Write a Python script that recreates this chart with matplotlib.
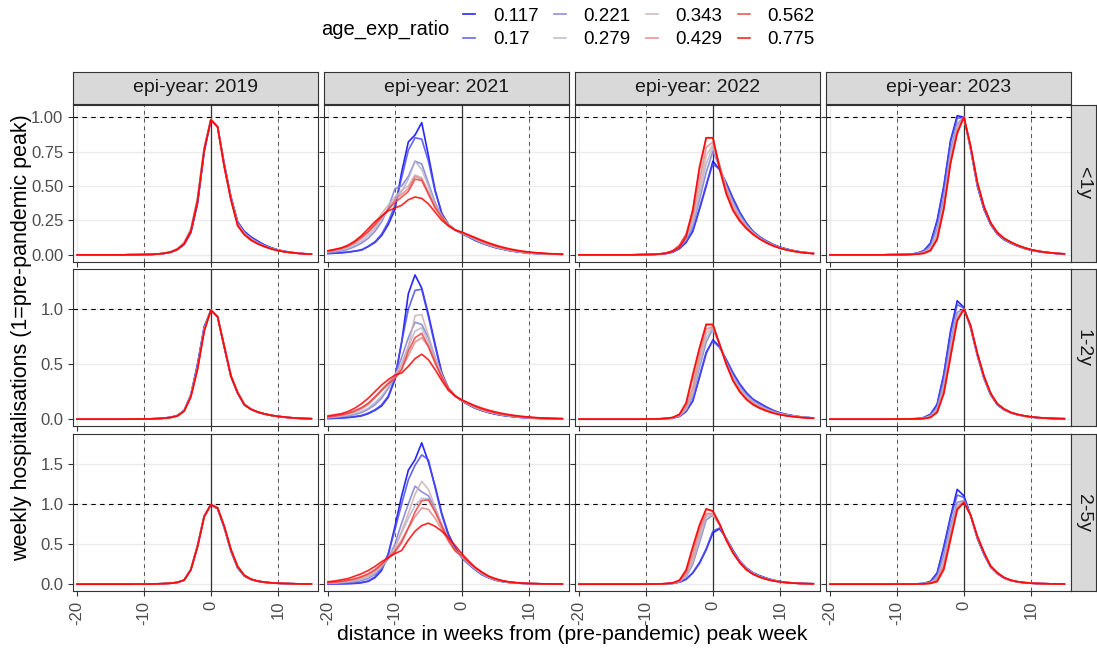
import matplotlib.pyplot as plt
from matplotlib.lines import Line2D

plt.rcParams['font.family'] = ['Liberation Sans', 'DejaVu Sans']

# weeks relative to the pre-pandemic peak week
weeks = list(range(-20, 16))
years = ['2019', '2021', '2022', '2023']
age_groups = ['<1y', '1-2y', '2-5y']
ratios = ['0.117', '0.17', '0.221', '0.279', '0.343', '0.429', '0.562', '0.775']
colors = ['#0000FF', '#4A4AF2', '#7C7CD6', '#B4B4CC', '#CFAFAF', '#E08686', '#F03C3C', '#FF0000']

# ---- <1y ----
y2019_lt1 = [
    [0,0,0,0,0,0,0,0,0.001,0.001, 0.002,0.003,0.005,0.01,0.019,0.038,0.075,0.16,0.37,0.75, 0.98,0.93,0.66,0.42,0.24,0.17,0.13,0.10,0.072,0.052,0.036,0.026,0.018,0.012,0.008,0.005],
    [0,0,0,0,0,0,0,0,0.001,0.001, 0.002,0.003,0.005,0.01,0.019,0.039,0.077,0.165,0.38,0.755, 0.98,0.93,0.655,0.415,0.235,0.165,0.125,0.095,0.07,0.05,0.035,0.025,0.017,0.012,0.008,0.005],
    [0,0,0,0,0,0,0,0,0.001,0.001, 0.002,0.003,0.006,0.011,0.021,0.042,0.085,0.18,0.40,0.77, 0.98,0.93,0.65,0.41,0.23,0.16,0.12,0.09,0.066,0.048,0.034,0.024,0.017,0.012,0.008,0.005],
    [0,0,0,0,0,0,0,0,0.001,0.001, 0.002,0.003,0.006,0.012,0.022,0.044,0.09,0.185,0.41,0.78, 0.985,0.93,0.645,0.405,0.225,0.155,0.115,0.085,0.063,0.046,0.033,0.023,0.016,0.011,0.008,0.005],
    [0,0,0,0,0,0,0,0,0.001,0.001, 0.002,0.003,0.006,0.012,0.022,0.045,0.09,0.19,0.41,0.78, 0.985,0.93,0.64,0.40,0.22,0.155,0.115,0.085,0.062,0.045,0.032,0.023,0.016,0.011,0.008,0.005],
    [0,0,0,0,0,0,0,0,0.001,0.001, 0.002,0.003,0.006,0.011,0.021,0.042,0.085,0.18,0.40,0.77, 0.98,0.93,0.64,0.40,0.22,0.15,0.11,0.082,0.06,0.044,0.031,0.023,0.016,0.011,0.007,0.005],
    [0,0,0,0,0,0,0,0,0.001,0.001, 0.002,0.003,0.006,0.011,0.02,0.04,0.08,0.17,0.39,0.76, 0.98,0.93,0.64,0.40,0.215,0.15,0.11,0.08,0.06,0.044,0.031,0.022,0.016,0.011,0.007,0.005],
    [0,0,0,0,0,0,0,0,0.001,0.001, 0.002,0.003,0.006,0.011,0.02,0.04,0.08,0.17,0.39,0.76, 0.98,0.93,0.64,0.40,0.21,0.145,0.105,0.08,0.06,0.043,0.03,0.022,0.016,0.011,0.007,0.005],
]
y2021_lt1 = [
    [0.01,0.012,0.015,0.02,0.027,0.035,0.06,0.09,0.14,0.22, 0.33,0.60,0.82,0.87,0.96,0.72,0.47,0.30,0.22,0.18, 0.155,0.13,0.105,0.085,0.068,0.053,0.042,0.032,0.024,0.018,0.013,0.01,0.008,0.006,0.005,0.004],
    [0.01,0.012,0.015,0.02,0.027,0.036,0.062,0.095,0.15,0.24, 0.36,0.56,0.76,0.85,0.84,0.68,0.46,0.30,0.22,0.18, 0.155,0.13,0.105,0.085,0.068,0.053,0.042,0.032,0.024,0.018,0.013,0.01,0.008,0.006,0.005,0.004],
    [0.015,0.02,0.028,0.04,0.06,0.085,0.12,0.17,0.24,0.34, 0.48,0.50,0.57,0.68,0.66,0.52,0.38,0.28,0.22,0.18, 0.158,0.133,0.11,0.088,0.07,0.055,0.043,0.033,0.025,0.019,0.014,0.011,0.008,0.006,0.005,0.004],
    [0.02,0.027,0.037,0.05,0.07,0.10,0.14,0.19,0.26,0.33, 0.40,0.46,0.55,0.68,0.62,0.50,0.37,0.28,0.22,0.18, 0.16,0.135,0.112,0.09,0.072,0.057,0.045,0.035,0.026,0.02,0.015,0.011,0.008,0.006,0.005,0.004],
    [0.025,0.033,0.045,0.06,0.085,0.12,0.17,0.23,0.30,0.36, 0.42,0.47,0.50,0.58,0.56,0.46,0.36,0.28,0.22,0.18, 0.16,0.138,0.115,0.094,0.076,0.06,0.047,0.037,0.028,0.021,0.016,0.012,0.009,0.007,0.005,0.004],
    [0.025,0.033,0.045,0.06,0.085,0.12,0.16,0.21,0.27,0.33, 0.40,0.44,0.48,0.57,0.55,0.45,0.35,0.28,0.22,0.18, 0.162,0.14,0.118,0.097,0.079,0.063,0.05,0.039,0.03,0.023,0.017,0.013,0.01,0.007,0.006,0.004],
    [0.028,0.037,0.05,0.068,0.095,0.13,0.17,0.22,0.28,0.33, 0.38,0.42,0.46,0.55,0.54,0.44,0.34,0.27,0.21,0.18, 0.163,0.142,0.121,0.1,0.082,0.066,0.052,0.041,0.032,0.025,0.019,0.014,0.011,0.008,0.006,0.005],
    [0.03,0.04,0.05,0.07,0.10,0.14,0.19,0.24,0.28,0.32, 0.34,0.36,0.40,0.42,0.41,0.37,0.31,0.25,0.21,0.18, 0.165,0.145,0.125,0.105,0.087,0.071,0.057,0.045,0.035,0.027,0.021,0.016,0.012,0.009,0.007,0.005],
]
y2022_lt1 = [
    [0,0,0,0,0,0,0,0,0,0.001, 0.002,0.003,0.005,0.01,0.02,0.045,0.09,0.17,0.33,0.50, 0.68,0.62,0.52,0.41,0.31,0.23,0.17,0.13,0.10,0.075,0.056,0.042,0.031,0.022,0.016,0.011],
    [0,0,0,0,0,0,0,0,0,0.001, 0.002,0.003,0.005,0.01,0.021,0.047,0.095,0.18,0.34,0.51, 0.66,0.62,0.52,0.41,0.31,0.23,0.17,0.13,0.10,0.075,0.056,0.042,0.031,0.022,0.016,0.011],
    [0,0,0,0,0,0,0,0,0,0.001, 0.002,0.003,0.006,0.012,0.025,0.055,0.11,0.21,0.40,0.60, 0.75,0.64,0.50,0.38,0.29,0.22,0.165,0.125,0.095,0.071,0.053,0.04,0.029,0.021,0.015,0.01],
    [0,0,0,0,0,0,0,0,0,0.001, 0.002,0.003,0.006,0.012,0.026,0.058,0.12,0.23,0.44,0.66, 0.78,0.65,0.49,0.37,0.28,0.21,0.16,0.122,0.093,0.07,0.052,0.039,0.028,0.02,0.014,0.01],
    [0,0,0,0,0,0,0,0,0,0.001, 0.002,0.003,0.006,0.013,0.027,0.06,0.13,0.25,0.48,0.72, 0.80,0.65,0.48,0.36,0.27,0.205,0.157,0.12,0.091,0.068,0.051,0.038,0.028,0.02,0.014,0.01],
    [0,0,0,0,0,0,0,0,0,0.001, 0.002,0.003,0.007,0.014,0.028,0.065,0.14,0.28,0.54,0.78, 0.82,0.65,0.47,0.34,0.26,0.2,0.154,0.118,0.09,0.067,0.05,0.037,0.027,0.019,0.014,0.009],
    [0,0,0,0,0,0,0,0,0,0.001, 0.002,0.003,0.007,0.014,0.03,0.07,0.15,0.32,0.62,0.85, 0.85,0.64,0.45,0.33,0.25,0.195,0.15,0.116,0.088,0.066,0.049,0.036,0.026,0.019,0.013,0.009],
    [0,0,0,0,0,0,0,0,0,0.001, 0.002,0.003,0.005,0.01,0.025,0.055,0.13,0.33,0.64,0.85, 0.85,0.62,0.44,0.32,0.245,0.19,0.148,0.114,0.087,0.065,0.048,0.036,0.026,0.018,0.013,0.009],
]
y2023_lt1 = [
    [0,0,0,0,0,0,0,0,0,0.001, 0.002,0.003,0.005,0.012,0.03,0.085,0.25,0.50,0.83,1.01, 1.0,0.77,0.50,0.33,0.22,0.15,0.11,0.085,0.064,0.047,0.034,0.025,0.018,0.013,0.009,0.006],
    [0,0,0,0,0,0,0,0,0,0.001, 0.002,0.003,0.005,0.011,0.028,0.08,0.24,0.49,0.82,0.99, 1.0,0.77,0.51,0.335,0.222,0.152,0.112,0.086,0.065,0.048,0.035,0.026,0.019,0.013,0.009,0.006],
    [0,0,0,0,0,0,0,0,0,0.001, 0.001,0.002,0.004,0.009,0.022,0.06,0.19,0.42,0.76,0.95, 1.0,0.78,0.52,0.34,0.225,0.155,0.115,0.088,0.067,0.05,0.036,0.027,0.02,0.014,0.01,0.007],
    [0,0,0,0,0,0,0,0,0,0.001, 0.001,0.002,0.004,0.008,0.02,0.05,0.16,0.38,0.72,0.93, 1.0,0.78,0.52,0.345,0.23,0.158,0.117,0.09,0.068,0.051,0.037,0.027,0.02,0.014,0.01,0.007],
    [0,0,0,0,0,0,0,0,0,0.001, 0.001,0.002,0.003,0.007,0.017,0.043,0.14,0.36,0.70,0.92, 1.0,0.78,0.52,0.35,0.23,0.16,0.118,0.091,0.069,0.051,0.037,0.028,0.02,0.014,0.01,0.007],
    [0,0,0,0,0,0,0,0,0,0.001, 0.001,0.002,0.003,0.006,0.014,0.036,0.12,0.35,0.68,0.90, 1.0,0.785,0.525,0.35,0.232,0.162,0.12,0.092,0.07,0.052,0.038,0.028,0.02,0.015,0.01,0.007],
    [0,0,0,0,0,0,0,0,0,0.001, 0.001,0.002,0.003,0.005,0.012,0.032,0.115,0.34,0.67,0.89, 1.0,0.79,0.525,0.35,0.232,0.162,0.12,0.092,0.07,0.052,0.038,0.028,0.02,0.015,0.01,0.007],
    [0,0,0,0,0,0,0,0,0,0.001, 0.001,0.001,0.002,0.005,0.01,0.03,0.11,0.33,0.66,0.88, 1.0,0.79,0.53,0.35,0.232,0.162,0.12,0.093,0.07,0.052,0.038,0.028,0.02,0.015,0.01,0.007],
]

# ---- 1-2y ----
y2019_1_2 = [
    [0,0,0,0,0,0,0,0,0.001,0.001, 0.002,0.003,0.005,0.01,0.018,0.034,0.08,0.22,0.50,0.84, 0.99,0.93,0.65,0.385,0.235,0.13,0.088,0.063,0.046,0.034,0.025,0.018,0.012,0.008,0.006,0.004],
    [0,0,0,0,0,0,0,0,0.001,0.001, 0.002,0.003,0.005,0.01,0.017,0.033,0.078,0.22,0.49,0.83, 0.99,0.93,0.655,0.39,0.237,0.13,0.089,0.064,0.047,0.034,0.025,0.018,0.013,0.009,0.006,0.004],
    [0,0,0,0,0,0,0,0,0.001,0.001, 0.002,0.003,0.005,0.009,0.016,0.031,0.077,0.215,0.47,0.82, 0.99,0.93,0.66,0.395,0.24,0.135,0.09,0.065,0.048,0.035,0.026,0.019,0.013,0.009,0.006,0.004],
    [0,0,0,0,0,0,0,0,0.001,0.001, 0.002,0.003,0.005,0.009,0.016,0.031,0.077,0.215,0.47,0.82, 0.99,0.93,0.665,0.40,0.245,0.137,0.092,0.066,0.049,0.036,0.026,0.019,0.013,0.009,0.006,0.004],
    [0,0,0,0,0,0,0,0,0.001,0.001, 0.002,0.003,0.005,0.009,0.016,0.031,0.076,0.21,0.46,0.81, 0.99,0.93,0.665,0.40,0.245,0.137,0.092,0.066,0.049,0.036,0.026,0.019,0.013,0.009,0.006,0.004],
    [0,0,0,0,0,0,0,0,0.001,0.001, 0.002,0.003,0.005,0.009,0.016,0.03,0.075,0.21,0.46,0.81, 0.99,0.93,0.66,0.395,0.24,0.135,0.091,0.065,0.048,0.035,0.026,0.019,0.013,0.009,0.006,0.004],
    [0,0,0,0,0,0,0,0,0.001,0.001, 0.002,0.003,0.005,0.009,0.016,0.03,0.074,0.205,0.455,0.80, 0.99,0.93,0.66,0.39,0.24,0.133,0.09,0.065,0.048,0.035,0.026,0.019,0.013,0.009,0.006,0.004],
    [0,0,0,0,0,0,0,0,0.001,0.001, 0.002,0.003,0.005,0.009,0.015,0.029,0.072,0.20,0.45,0.80, 0.99,0.93,0.66,0.39,0.24,0.13,0.09,0.065,0.048,0.035,0.026,0.019,0.013,0.009,0.006,0.004],
]
y2021_1_2 = [
    [0.006,0.008,0.011,0.015,0.021,0.03,0.05,0.08,0.12,0.2, 0.36,0.7,1.14,1.31,1.19,0.95,0.68,0.42,0.28,0.21, 0.165,0.13,0.1,0.078,0.06,0.046,0.035,0.027,0.02,0.015,0.011,0.008,0.006,0.005,0.004,0.003],
    [0.007,0.009,0.012,0.017,0.024,0.034,0.055,0.085,0.13,0.21, 0.38,0.70,1.0,1.17,1.18,0.93,0.66,0.41,0.28,0.21, 0.165,0.13,0.1,0.079,0.061,0.047,0.036,0.028,0.021,0.016,0.012,0.009,0.007,0.005,0.004,0.003],
    [0.012,0.016,0.022,0.03,0.042,0.06,0.09,0.13,0.19,0.28, 0.40,0.56,0.74,0.88,0.86,0.74,0.56,0.40,0.28,0.21, 0.167,0.133,0.104,0.082,0.064,0.05,0.038,0.03,0.023,0.017,0.013,0.01,0.007,0.006,0.004,0.003],
    [0.015,0.02,0.027,0.037,0.05,0.07,0.10,0.15,0.21,0.29, 0.38,0.50,0.66,0.80,0.83,0.70,0.54,0.39,0.28,0.21, 0.168,0.135,0.106,0.084,0.066,0.052,0.04,0.031,0.024,0.018,0.014,0.01,0.008,0.006,0.005,0.003],
    [0.02,0.026,0.035,0.048,0.066,0.09,0.13,0.19,0.26,0.33, 0.40,0.50,0.66,0.94,0.95,0.76,0.56,0.40,0.28,0.21, 0.17,0.137,0.108,0.086,0.068,0.054,0.042,0.033,0.025,0.019,0.015,0.011,0.008,0.006,0.005,0.004],
    [0.02,0.027,0.037,0.05,0.07,0.1,0.14,0.2,0.27,0.33, 0.38,0.46,0.58,0.70,0.74,0.66,0.52,0.38,0.28,0.21, 0.172,0.14,0.112,0.089,0.071,0.056,0.044,0.035,0.027,0.02,0.016,0.012,0.009,0.007,0.005,0.004],
    [0.022,0.03,0.04,0.055,0.077,0.105,0.145,0.2,0.26,0.32, 0.37,0.45,0.62,0.74,0.78,0.66,0.51,0.38,0.28,0.21, 0.173,0.142,0.115,0.092,0.074,0.058,0.046,0.036,0.028,0.021,0.016,0.012,0.009,0.007,0.005,0.004],
    [0.03,0.04,0.05,0.07,0.1,0.14,0.19,0.25,0.31,0.36, 0.40,0.42,0.48,0.55,0.59,0.54,0.45,0.35,0.26,0.21, 0.175,0.148,0.122,0.1,0.082,0.066,0.053,0.042,0.033,0.026,0.02,0.015,0.011,0.008,0.006,0.005],
]
y2022_1_2 = [
    [0,0,0,0,0,0,0,0,0,0, 0.001,0.002,0.003,0.005,0.01,0.025,0.07,0.165,0.38,0.60, 0.72,0.66,0.54,0.42,0.32,0.24,0.18,0.145,0.11,0.08,0.058,0.043,0.031,0.022,0.016,0.011],
    [0,0,0,0,0,0,0,0,0,0, 0.001,0.002,0.003,0.005,0.01,0.026,0.072,0.17,0.39,0.61, 0.71,0.65,0.54,0.42,0.32,0.24,0.18,0.143,0.108,0.079,0.057,0.042,0.031,0.022,0.016,0.011],
    [0,0,0,0,0,0,0,0,0,0, 0.001,0.002,0.003,0.006,0.012,0.03,0.085,0.21,0.47,0.70, 0.82,0.68,0.52,0.39,0.29,0.22,0.165,0.125,0.095,0.07,0.052,0.038,0.028,0.02,0.015,0.01],
    [0,0,0,0,0,0,0,0,0,0, 0.001,0.002,0.003,0.006,0.013,0.032,0.09,0.23,0.50,0.74, 0.83,0.68,0.51,0.38,0.28,0.21,0.16,0.12,0.09,0.067,0.05,0.037,0.027,0.02,0.014,0.01],
    [0,0,0,0,0,0,0,0,0,0, 0.001,0.002,0.003,0.006,0.013,0.034,0.095,0.25,0.54,0.78, 0.84,0.68,0.50,0.37,0.27,0.2,0.15,0.115,0.086,0.064,0.047,0.035,0.026,0.019,0.014,0.01],
    [0,0,0,0,0,0,0,0,0,0, 0.001,0.002,0.003,0.007,0.014,0.037,0.11,0.29,0.58,0.82, 0.84,0.68,0.50,0.36,0.26,0.19,0.145,0.11,0.082,0.061,0.045,0.033,0.025,0.018,0.013,0.009],
    [0,0,0,0,0,0,0,0,0,0, 0.001,0.002,0.003,0.007,0.015,0.04,0.14,0.38,0.64,0.86, 0.86,0.68,0.50,0.35,0.25,0.18,0.135,0.1,0.075,0.056,0.042,0.031,0.023,0.017,0.012,0.009],
    [0,0,0,0,0,0,0,0,0,0, 0.001,0.002,0.003,0.007,0.016,0.045,0.15,0.41,0.65,0.86, 0.86,0.68,0.50,0.35,0.25,0.18,0.13,0.1,0.075,0.055,0.04,0.03,0.022,0.016,0.011,0.008],
]
y2023_1_2 = [
    [0,0,0,0,0,0,0,0,0,0, 0.001,0.002,0.003,0.005,0.015,0.045,0.135,0.41,0.80,1.075, 1.015,0.83,0.58,0.37,0.22,0.13,0.085,0.057,0.04,0.028,0.019,0.013,0.009,0.007,0.005,0.003],
    [0,0,0,0,0,0,0,0,0,0, 0.001,0.002,0.003,0.005,0.014,0.042,0.13,0.40,0.78,1.04, 1.01,0.835,0.585,0.375,0.225,0.132,0.087,0.058,0.041,0.029,0.02,0.014,0.01,0.007,0.005,0.004],
    [0,0,0,0,0,0,0,0,0,0, 0.001,0.001,0.002,0.004,0.01,0.032,0.1,0.34,0.70,0.97, 1.0,0.84,0.59,0.38,0.23,0.135,0.09,0.06,0.042,0.03,0.02,0.014,0.01,0.007,0.005,0.004],
    [0,0,0,0,0,0,0,0,0,0, 0.001,0.001,0.002,0.004,0.009,0.028,0.09,0.30,0.65,0.94, 1.0,0.84,0.59,0.38,0.23,0.135,0.09,0.06,0.042,0.03,0.02,0.014,0.01,0.007,0.005,0.004],
    [0,0,0,0,0,0,0,0,0,0, 0.001,0.001,0.002,0.003,0.008,0.024,0.08,0.28,0.62,0.92, 1.0,0.845,0.595,0.385,0.232,0.137,0.091,0.061,0.043,0.03,0.02,0.014,0.01,0.007,0.005,0.004],
    [0,0,0,0,0,0,0,0,0,0, 0.001,0.001,0.002,0.003,0.007,0.02,0.07,0.26,0.60,0.91, 1.0,0.85,0.6,0.385,0.233,0.138,0.092,0.061,0.043,0.03,0.021,0.015,0.01,0.007,0.005,0.004],
    [0,0,0,0,0,0,0,0,0,0, 0.001,0.001,0.002,0.003,0.006,0.017,0.065,0.24,0.57,0.90, 1.0,0.85,0.6,0.39,0.235,0.138,0.092,0.062,0.043,0.031,0.021,0.015,0.011,0.007,0.005,0.004],
    [0,0,0,0,0,0,0,0,0,0, 0.001,0.001,0.002,0.003,0.005,0.015,0.06,0.23,0.56,0.89, 1.0,0.85,0.6,0.39,0.235,0.14,0.093,0.062,0.044,0.031,0.021,0.015,0.011,0.008,0.005,0.004],
]

# ---- 2-5y ----
y2019_2_5 = [
    [0,0,0,0,0,0,0,0,0,0.001, 0.001,0.002,0.004,0.007,0.012,0.022,0.05,0.18,0.47,0.85, 0.99,0.94,0.70,0.41,0.20,0.10,0.058,0.036,0.024,0.016,0.011,0.008,0.006,0.004,0.003,0.002],
    [0,0,0,0,0,0,0,0,0,0.001, 0.001,0.002,0.004,0.007,0.012,0.022,0.05,0.18,0.47,0.85, 0.99,0.94,0.705,0.415,0.205,0.102,0.059,0.037,0.024,0.016,0.011,0.008,0.006,0.004,0.003,0.002],
    [0,0,0,0,0,0,0,0,0,0.001, 0.001,0.002,0.004,0.007,0.012,0.023,0.052,0.185,0.48,0.85, 0.99,0.945,0.71,0.42,0.21,0.105,0.06,0.037,0.025,0.017,0.012,0.008,0.006,0.004,0.003,0.002],
    [0,0,0,0,0,0,0,0,0,0.001, 0.001,0.002,0.004,0.007,0.012,0.023,0.052,0.185,0.48,0.85, 0.99,0.95,0.715,0.425,0.215,0.108,0.061,0.038,0.025,0.017,0.012,0.009,0.006,0.004,0.003,0.002],
    [0,0,0,0,0,0,0,0,0,0.001, 0.001,0.002,0.004,0.007,0.012,0.023,0.052,0.185,0.48,0.85, 0.99,0.95,0.715,0.425,0.215,0.108,0.061,0.038,0.025,0.017,0.012,0.009,0.006,0.004,0.003,0.002],
    [0,0,0,0,0,0,0,0,0,0.001, 0.001,0.002,0.004,0.007,0.012,0.022,0.05,0.18,0.47,0.84, 0.99,0.95,0.72,0.43,0.22,0.11,0.062,0.038,0.025,0.017,0.012,0.009,0.006,0.004,0.003,0.002],
    [0,0,0,0,0,0,0,0,0,0.001, 0.001,0.002,0.004,0.007,0.012,0.022,0.05,0.18,0.47,0.84, 0.99,0.95,0.72,0.43,0.22,0.11,0.062,0.038,0.025,0.017,0.012,0.009,0.006,0.004,0.003,0.002],
    [0,0,0,0,0,0,0,0,0,0.001, 0.001,0.002,0.004,0.007,0.012,0.022,0.05,0.175,0.465,0.84, 0.99,0.95,0.72,0.43,0.22,0.11,0.062,0.038,0.025,0.017,0.012,0.009,0.006,0.004,0.003,0.002],
]
y2021_2_5 = [
    [0.003,0.004,0.005,0.007,0.01,0.018,0.035,0.08,0.17,0.37, 0.72,1.10,1.42,1.55,1.76,1.52,1.22,0.88,0.62,0.45, 0.33,0.25,0.18,0.12,0.08,0.05,0.033,0.022,0.015,0.01,0.007,0.005,0.004,0.003,0.002,0.002],
    [0.004,0.005,0.006,0.009,0.013,0.022,0.04,0.09,0.19,0.38, 0.68,1.0,1.30,1.48,1.61,1.55,1.20,0.86,0.6,0.44, 0.33,0.25,0.18,0.12,0.08,0.051,0.034,0.023,0.016,0.011,0.008,0.006,0.004,0.003,0.002,0.002],
    [0.008,0.011,0.015,0.021,0.03,0.045,0.07,0.12,0.2,0.32, 0.50,0.76,1.0,1.22,1.15,1.10,0.94,0.74,0.55,0.42, 0.335,0.255,0.185,0.125,0.083,0.054,0.036,0.024,0.016,0.011,0.008,0.006,0.004,0.003,0.002,0.002],
    [0.012,0.016,0.022,0.03,0.042,0.06,0.09,0.14,0.22,0.33, 0.46,0.64,0.82,0.98,1.07,1.06,0.92,0.74,0.56,0.42, 0.34,0.26,0.19,0.13,0.086,0.056,0.037,0.025,0.017,0.012,0.008,0.006,0.004,0.003,0.002,0.002],
    [0.015,0.02,0.027,0.037,0.05,0.07,0.1,0.15,0.23,0.33, 0.46,0.66,0.88,1.12,1.28,1.18,0.96,0.74,0.55,0.42, 0.345,0.265,0.195,0.135,0.09,0.059,0.039,0.026,0.018,0.012,0.009,0.006,0.004,0.003,0.002,0.002],
    [0.018,0.024,0.033,0.045,0.06,0.085,0.12,0.17,0.24,0.33, 0.42,0.55,0.70,0.84,0.95,0.93,0.82,0.68,0.53,0.41, 0.35,0.27,0.2,0.14,0.094,0.062,0.041,0.027,0.018,0.012,0.009,0.006,0.004,0.003,0.002,0.002],
    [0.02,0.027,0.037,0.05,0.068,0.095,0.13,0.18,0.25,0.33, 0.40,0.52,0.70,0.90,1.04,1.05,0.90,0.72,0.55,0.42, 0.355,0.275,0.205,0.145,0.097,0.064,0.042,0.028,0.019,0.013,0.009,0.006,0.004,0.003,0.002,0.002],
    [0.03,0.04,0.055,0.07,0.1,0.13,0.17,0.22,0.28,0.33, 0.38,0.42,0.55,0.66,0.73,0.76,0.72,0.66,0.58,0.48, 0.38,0.29,0.21,0.15,0.10,0.07,0.045,0.03,0.02,0.013,0.009,0.006,0.004,0.003,0.002,0.002],
]
y2022_2_5 = [
    [0,0,0,0,0,0,0,0,0,0, 0.001,0.002,0.003,0.005,0.01,0.025,0.06,0.14,0.26,0.43, 0.64,0.69,0.57,0.42,0.29,0.20,0.14,0.105,0.075,0.05,0.033,0.022,0.015,0.01,0.007,0.005],
    [0,0,0,0,0,0,0,0,0,0, 0.001,0.002,0.003,0.005,0.01,0.026,0.062,0.145,0.27,0.44, 0.66,0.70,0.57,0.42,0.29,0.2,0.14,0.103,0.073,0.049,0.033,0.022,0.015,0.01,0.007,0.005],
    [0,0,0,0,0,0,0,0,0,0, 0.001,0.002,0.003,0.006,0.012,0.032,0.09,0.25,0.52,0.80, 0.86,0.74,0.56,0.40,0.28,0.19,0.133,0.097,0.068,0.046,0.031,0.021,0.014,0.01,0.007,0.005],
    [0,0,0,0,0,0,0,0,0,0, 0.001,0.002,0.003,0.006,0.012,0.034,0.1,0.28,0.56,0.84, 0.86,0.74,0.56,0.40,0.28,0.19,0.132,0.095,0.067,0.045,0.03,0.02,0.014,0.01,0.007,0.005],
    [0,0,0,0,0,0,0,0,0,0, 0.001,0.002,0.003,0.006,0.013,0.036,0.11,0.30,0.60,0.86, 0.88,0.74,0.56,0.40,0.275,0.185,0.13,0.093,0.065,0.044,0.03,0.02,0.014,0.01,0.007,0.005],
    [0,0,0,0,0,0,0,0,0,0, 0.001,0.002,0.003,0.007,0.014,0.04,0.13,0.36,0.66,0.88, 0.88,0.74,0.55,0.39,0.27,0.18,0.127,0.09,0.063,0.043,0.029,0.02,0.014,0.009,0.006,0.004],
    [0,0,0,0,0,0,0,0,0,0, 0.001,0.002,0.003,0.007,0.015,0.045,0.16,0.44,0.72,0.93, 0.91,0.75,0.55,0.39,0.27,0.18,0.125,0.088,0.062,0.042,0.028,0.019,0.013,0.009,0.006,0.004],
    [0,0,0,0,0,0,0,0,0,0, 0.001,0.002,0.003,0.007,0.016,0.05,0.18,0.47,0.74,0.94, 0.91,0.75,0.55,0.39,0.27,0.18,0.123,0.087,0.06,0.041,0.028,0.019,0.013,0.009,0.006,0.004],
]
y2023_2_5 = [
    [0,0,0,0,0,0,0,0,0,0, 0.001,0.001,0.002,0.004,0.01,0.035,0.14,0.47,0.84,1.18, 1.10,0.86,0.57,0.37,0.21,0.13,0.075,0.045,0.028,0.018,0.012,0.008,0.006,0.004,0.003,0.002],
    [0,0,0,0,0,0,0,0,0,0, 0.001,0.001,0.002,0.004,0.009,0.032,0.13,0.45,0.82,1.11, 1.08,0.86,0.58,0.375,0.215,0.133,0.077,0.046,0.029,0.019,0.012,0.008,0.006,0.004,0.003,0.002],
    [0,0,0,0,0,0,0,0,0,0, 0.001,0.001,0.002,0.003,0.007,0.022,0.09,0.36,0.72,1.02, 1.04,0.86,0.585,0.385,0.22,0.137,0.079,0.047,0.03,0.019,0.013,0.008,0.006,0.004,0.003,0.002],
    [0,0,0,0,0,0,0,0,0,0, 0.001,0.001,0.002,0.003,0.006,0.018,0.07,0.30,0.66,0.98, 1.03,0.86,0.59,0.39,0.22,0.138,0.08,0.048,0.03,0.02,0.013,0.009,0.006,0.004,0.003,0.002],
    [0,0,0,0,0,0,0,0,0,0, 0.001,0.001,0.002,0.003,0.005,0.015,0.06,0.27,0.63,0.97, 1.03,0.86,0.59,0.39,0.222,0.14,0.081,0.048,0.03,0.02,0.013,0.009,0.006,0.004,0.003,0.002],
    [0,0,0,0,0,0,0,0,0,0, 0.001,0.001,0.002,0.003,0.005,0.013,0.05,0.23,0.60,0.95, 1.02,0.86,0.595,0.39,0.223,0.14,0.082,0.049,0.031,0.02,0.013,0.009,0.006,0.004,0.003,0.002],
    [0,0,0,0,0,0,0,0,0,0, 0.001,0.001,0.001,0.002,0.004,0.011,0.04,0.20,0.57,0.93, 1.02,0.86,0.595,0.395,0.225,0.142,0.083,0.049,0.031,0.02,0.013,0.009,0.006,0.004,0.003,0.002],
    [0,0,0,0,0,0,0,0,0,0, 0.001,0.001,0.001,0.002,0.004,0.01,0.03,0.18,0.55,0.925, 1.02,0.86,0.60,0.395,0.225,0.142,0.083,0.05,0.031,0.02,0.013,0.009,0.006,0.004,0.003,0.002],
]

panels = {
    ('<1y', '2019'): y2019_lt1, ('<1y', '2021'): y2021_lt1,
    ('<1y', '2022'): y2022_lt1, ('<1y', '2023'): y2023_lt1,
    ('1-2y', '2019'): y2019_1_2, ('1-2y', '2021'): y2021_1_2,
    ('1-2y', '2022'): y2022_1_2, ('1-2y', '2023'): y2023_1_2,
    ('2-5y', '2019'): y2019_2_5, ('2-5y', '2021'): y2021_2_5,
    ('2-5y', '2022'): y2022_2_5, ('2-5y', '2023'): y2023_2_5,
}

# layout in pixels
W, H = 1097, 653
col_x = [73, 324, 575, 826]
pw = 245
row_y = [105, 269, 434]
ph = 157
ylims = [(-0.052, 1.088), (-0.062, 1.364), (-0.085, 1.87)]
yticks = [[0, 0.25, 0.5, 0.75, 1.0], [0, 0.5, 1.0], [0, 0.5, 1.0, 1.5]]
yfmt = ['{:.2f}', '{:.1f}', '{:.1f}']
xticks = [-20, -10, 0, 10]

fig = plt.figure(figsize=(W / 100, H / 100), dpi=100)
frame_col = '#333333'
tick_col = '#4D4D4D'

for r, age in enumerate(age_groups):
    for c, yr in enumerate(years):
        ax = fig.add_axes([col_x[c] / W, 1 - (row_y[r] + ph) / H, pw / W, ph / H])
        ax.set_xlim(-20.6, 16.0)
        ax.set_ylim(*ylims[r])
        ax.set_xticks(xticks)
        ax.set_yticks(yticks[r])
        ax.grid(True, color='#EBEBEB', lw=1.0)
        ax.set_axisbelow(True)
        for sp in ax.spines.values():
            sp.set_color(frame_col)
            sp.set_linewidth(0.8)
        ax.tick_params(colors=frame_col, length=3.5, width=0.8, labelcolor=tick_col, labelsize=12)

        ax.axhline(1, color='black', ls=(0, (4, 4)), lw=0.8, zorder=1)
        ax.axvline(0, color='#333333', lw=0.9, zorder=1)
        for xv in (-10, 10):
            ax.axvline(xv, color='#555555', ls=(0, (4, 4)), lw=0.7, zorder=1)

        series = panels[(age, yr)]
        for i, vals in enumerate(series):
            assert len(vals) == len(weeks), (age, yr, i, len(vals))
            ax.plot(weeks, vals, color=colors[i], lw=1.2, alpha=0.85, zorder=2)

        if c == 0:
            ax.set_yticklabels([yfmt[r].format(v) for v in yticks[r]])
        else:
            ax.set_yticklabels([])
        if r == 2:
            ax.set_xticklabels([str(v) for v in xticks], rotation=90)
        else:
            ax.set_xticklabels([])

        # facet strips
        if r == 0:
            sax = fig.add_axes([col_x[c] / W, 1 - (row_y[0] - 1) / H, pw / W, 32 / H])
            sax.set_facecolor('#D9D9D9')
            sax.set_xticks([]); sax.set_yticks([])
            for sp in sax.spines.values():
                sp.set_color(frame_col); sp.set_linewidth(0.8)
            sax.text(0.5, 0.5, 'epi-year: ' + yr, ha='center', va='center',
                     fontsize=14, color='#1A1A1A', transform=sax.transAxes)
        if c == 3:
            rax = fig.add_axes([1071 / W, 1 - (row_y[r] + ph) / H, 25 / W, ph / H])
            rax.set_facecolor('#D9D9D9')
            rax.set_xticks([]); rax.set_yticks([])
            for sp in rax.spines.values():
                sp.set_color(frame_col); sp.set_linewidth(0.8)
            rax.text(0.5, 0.5, age, ha='center', va='center', rotation=-90,
                     fontsize=14, color='#1A1A1A', transform=rax.transAxes)

fig.text(22 / W, 1 - 338 / H, 'weekly hospitalisations (1=pre-pandemic peak)',
         rotation=90, ha='center', va='center', fontsize=15.5)
fig.text(572 / W, 1 - 635 / H, 'distance in weeks from (pre-pandemic) peak week',
         ha='center', va='center', fontsize=15.2)

# legend
fig.text(321 / W, 1 - 29 / H, 'age_exp_ratio', ha='left', va='center', fontsize=14.5)
handles = [Line2D([0], [0], color=colors[i], lw=1.2, alpha=0.85, label=ratios[i])
           for i in range(len(ratios))]
fig.legend(handles=handles, loc='center left', bbox_to_anchor=(463 / W, 1 - 28 / H),
           ncol=4, frameon=False, fontsize=13.5, handlelength=0.64, handletextpad=0.96,
           columnspacing=0.8, labelspacing=0.35, borderpad=0, borderaxespad=0)

fig.savefig('out.png', dpi=100)
